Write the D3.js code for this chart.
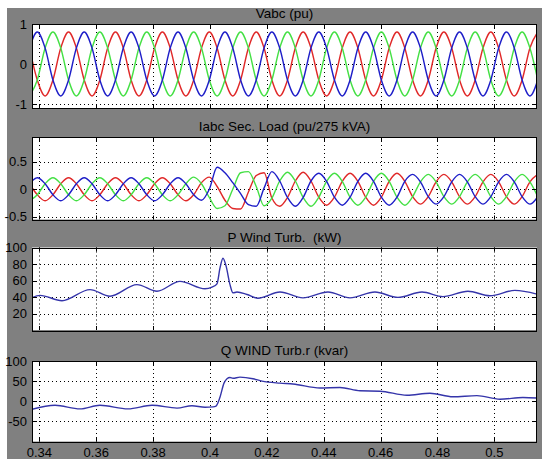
<!DOCTYPE html>
<html>
<head>
<meta charset="utf-8">
<script src="https://cdn.jsdelivr.net/npm/d3@7"></script>
<style>
body { margin: 0; background: #fff; }
svg text { font-family: Arial, "Liberation Sans", sans-serif; fill: #000; }
</style>
</head>
<body>
<svg id="chart" width="542" height="459"></svg>
<script>
'use strict';

// x axis (time, s)
var xTicks = [0.34, 0.36, 0.38, 0.40, 0.42, 0.44, 0.46, 0.48, 0.50];
var xTickLabels = ['0.34', '0.36', '0.38', '0.4', '0.42', '0.44', '0.46', '0.48', '0.5'];

// sample times for the three phase waves (6 samples per cycle)
var tGrid = [
    0.33651, 0.33926, 0.34201, 0.34476, 0.34751, 0.35026,
    0.35301, 0.35576, 0.35851, 0.36126, 0.36401, 0.36676,
    0.36951, 0.37226, 0.37501, 0.37776, 0.38051, 0.38326,
    0.38601, 0.38876, 0.39151, 0.39426, 0.39701, 0.39976,
    0.40251, 0.40526, 0.40801, 0.41076, 0.41351, 0.41626,
    0.41901, 0.42176, 0.42451, 0.42726, 0.43001, 0.43276,
    0.43551, 0.43826, 0.44101, 0.44376, 0.44651, 0.44926,
    0.45201, 0.45476, 0.45751, 0.46026, 0.46301, 0.46576,
    0.46851, 0.47126, 0.47401, 0.47676, 0.47951, 0.48226,
    0.48501, 0.48776, 0.49051, 0.49326, 0.49601, 0.49876,
    0.50151, 0.50426, 0.50701, 0.50976, 0.51251, 0.51526
];

// Vabc (pu)
var vBlue = [
    0.4, 0.8, 0.4, -0.4, -0.8, -0.4,
    0.4, 0.8, 0.4, -0.4, -0.8, -0.4,
    0.4, 0.8, 0.4, -0.4, -0.8, -0.4,
    0.4, 0.8, 0.4, -0.4, -0.8, -0.4,
    0.4, 0.8, 0.4, -0.4, -0.8, -0.4,
    0.4, 0.8, 0.4, -0.4, -0.8, -0.4,
    0.4, 0.8, 0.4, -0.4, -0.8, -0.4,
    0.4, 0.8, 0.4, -0.4, -0.8, -0.4,
    0.4, 0.8, 0.4, -0.4, -0.8, -0.4,
    0.4, 0.8, 0.4, -0.4, -0.8, -0.4,
    0.4, 0.8, 0.4, -0.4, -0.8, -0.4
];
var vGreen = [
    -0.8, -0.4, 0.4, 0.8, 0.4, -0.4,
    -0.8, -0.4, 0.4, 0.8, 0.4, -0.4,
    -0.8, -0.4, 0.4, 0.8, 0.4, -0.4,
    -0.8, -0.4, 0.4, 0.8, 0.4, -0.4,
    -0.8, -0.4, 0.4, 0.8, 0.4, -0.4,
    -0.8, -0.4, 0.4, 0.8, 0.4, -0.4,
    -0.8, -0.4, 0.4, 0.8, 0.4, -0.4,
    -0.8, -0.4, 0.4, 0.8, 0.4, -0.4,
    -0.8, -0.4, 0.4, 0.8, 0.4, -0.4,
    -0.8, -0.4, 0.4, 0.8, 0.4, -0.4,
    -0.8, -0.4, 0.4, 0.8, 0.4, -0.4
];
var vRed = [
    0.4, -0.4, -0.8, -0.4, 0.4, 0.8,
    0.4, -0.4, -0.8, -0.4, 0.4, 0.8,
    0.4, -0.4, -0.8, -0.4, 0.4, 0.8,
    0.4, -0.4, -0.8, -0.4, 0.4, 0.8,
    0.4, -0.4, -0.8, -0.4, 0.4, 0.8,
    0.4, -0.4, -0.8, -0.4, 0.4, 0.8,
    0.4, -0.4, -0.8, -0.4, 0.4, 0.8,
    0.4, -0.4, -0.8, -0.4, 0.4, 0.8,
    0.4, -0.4, -0.8, -0.4, 0.4, 0.8,
    0.4, -0.4, -0.8, -0.4, 0.4, 0.8,
    0.4, -0.4, -0.8, -0.4, 0.4, 0.8
];

// Iabc Sec. Load (pu/275 kVA)
var iBlue = [
    0.1, 0.21, 0.1, -0.1, -0.21, -0.1,
    0.1, 0.21, 0.1, -0.1, -0.21, -0.1,
    0.1, 0.21, 0.1, -0.1, -0.21, -0.1,
    0.1, 0.21, 0.1, -0.1, -0.2, 0.0,
    0.40, 0.30, 0.12, -0.08, -0.28, -0.31,
    0.02, 0.32, 0.15, -0.15, -0.31, -0.15,
    0.15, 0.29, 0.145, -0.145, -0.29, -0.145,
    0.145, 0.29, 0.145, -0.145, -0.29, -0.145,
    0.145, 0.27, 0.135, -0.135, -0.27, -0.135,
    0.135, 0.27, 0.135, -0.135, -0.27, -0.135,
    0.135, 0.27, 0.135, -0.135, -0.27, -0.135
];
var iGreen = [
    -0.21, -0.1, 0.1, 0.21, 0.1, -0.1,
    -0.21, -0.1, 0.1, 0.21, 0.1, -0.1,
    -0.21, -0.1, 0.1, 0.21, 0.1, -0.1,
    -0.21, -0.1, 0.1, 0.22, 0.1, -0.15,
    -0.35, -0.30, 0.0, 0.30, 0.32, 0.05,
    -0.3, -0.16, 0.15, 0.31, 0.15, -0.15,
    -0.31, -0.145, 0.145, 0.29, 0.145, -0.145,
    -0.29, -0.145, 0.145, 0.29, 0.145, -0.145,
    -0.29, -0.135, 0.135, 0.27, 0.135, -0.135,
    -0.27, -0.135, 0.135, 0.27, 0.135, -0.135,
    -0.27, -0.135, 0.135, 0.27, 0.135, -0.135
];
var iRed = [
    0.1, -0.1, -0.21, -0.1, 0.1, 0.21,
    0.1, -0.1, -0.21, -0.1, 0.1, 0.21,
    0.1, -0.1, -0.21, -0.1, 0.1, 0.21,
    0.1, -0.1, -0.21, -0.1, 0.12, 0.22,
    0.05, -0.2, -0.35, -0.36, -0.05, 0.25,
    0.3, -0.16, -0.31, -0.15, 0.15, 0.31,
    0.15, -0.145, -0.29, -0.145, 0.145, 0.29,
    0.145, -0.145, -0.29, -0.145, 0.145, 0.29,
    0.145, -0.135, -0.27, -0.135, 0.135, 0.27,
    0.135, -0.135, -0.27, -0.135, 0.135, 0.27,
    0.135, -0.135, -0.27, -0.135, 0.135, 0.27
];

// P Wind Turb. (kW)
var pTime = [0.33740, 0.34021, 0.34795, 0.35780, 0.36483, 0.37432, 0.38136, 0.38944, 0.39823, 0.40070,
    0.40246, 0.40351, 0.40456, 0.40562, 0.40703, 0.40808, 0.40949, 0.41301, 0.41687, 0.42461,
    0.43270, 0.44149, 0.44922, 0.45802, 0.46610, 0.47454, 0.48193, 0.49072, 0.49846, 0.50725, 0.51499];
var pVal = [39, 42, 35.5, 49, 41, 55, 47, 59, 50, 52,
    56, 75, 87, 78, 55, 45, 46, 43, 38.5, 46,
    39, 46, 39, 46, 39.5, 46, 40.5, 47, 41.5, 48, 43.5];

// Q WIND Turb.r (kvar)
var qTime = [0.33740, 0.34549, 0.35428, 0.36131, 0.37116, 0.37960, 0.38839, 0.39366, 0.39823, 0.40105,
    0.40211, 0.40351, 0.40492, 0.40597, 0.40703, 0.40808, 0.41054, 0.41511, 0.41828, 0.42461,
    0.42918, 0.43868, 0.44571, 0.45274, 0.45977, 0.46927, 0.47736, 0.48544, 0.49388, 0.50197,
    0.51006, 0.51499];
var qVal = [-20, -10, -19, -10, -19, -10, -17, -11, -15, -14,
    -12, 10, 45, 56, 59, 57, 60, 56, 50, 45,
    43, 33, 34, 26, 25, 15, 20, 11, 14, 5,
    9.5, 8];

var BLUE = '#1e1ec8', GREEN = '#44e044', RED = '#e02828', PQ = '#3535aa';

var panels = [
    {title: 'Vabc (pu)', top: 24, bottom: 108, domain: [-1.1, 1],
        ticks: [-1, 0, 1], labels: ['-1', '0', '1'],
        series: [[tGrid, vRed, RED], [tGrid, vGreen, GREEN], [tGrid, vBlue, BLUE]]},
    {title: 'Iabc Sec. Load (pu/275 kVA)', top: 137, bottom: 219.5, domain: [-0.55, 0.95],
        ticks: [-0.5, 0, 0.5], labels: ['-0.5', '0', '0.5'],
        series: [[tGrid, iRed, RED], [tGrid, iGreen, GREEN], [tGrid, iBlue, BLUE]]},
    {title: 'P Wind Turb.  (kW)', top: 247.5, bottom: 330, domain: [0, 100],
        ticks: [20, 40, 60, 80, 100], labels: ['20', '40', '60', '80', '100'],
        series: [[pTime, pVal, PQ]]},
    {title: 'Q WIND Turb.r (kvar)', top: 361, bottom: 441.5, domain: [-100, 100],
        ticks: [-50, 0, 50, 100], labels: ['-50', '0', '50', '100'],
        series: [[qTime, qVal, PQ]]}
];

var svg = d3.select('#chart');
svg.append('rect').attr('x', 7).attr('y', 8).attr('width', 535).attr('height', 451)
    .attr('fill', '#808080');

var left = 32, right = 537;
var x = d3.scaleLinear().domain([0.3374, 0.515]).range([left, right]);

panels.forEach(function(p, i) {
    var y = d3.scaleLinear().domain(p.domain).range([p.bottom, p.top]);
    var g = svg.append('g');

    g.append('clipPath').attr('id', 'clip' + i)
        .append('rect').attr('x', left).attr('y', p.top)
        .attr('width', right - left).attr('height', p.bottom - p.top);

    g.append('rect').attr('x', left).attr('y', p.top)
        .attr('width', right - left).attr('height', p.bottom - p.top)
        .attr('fill', '#fff');

    // dotted grid
    g.selectAll('.gx').data(xTicks).enter().append('line')
        .attr('x1', function(d) { return Math.round(x(d)) + 0.5; })
        .attr('x2', function(d) { return Math.round(x(d)) + 0.5; })
        .attr('y1', p.top).attr('y2', p.bottom)
        .attr('stroke', '#000').attr('stroke-width', 1).attr('stroke-dasharray', '1,3');
    g.selectAll('.gy').data(p.ticks).enter().append('line')
        .attr('x1', left).attr('x2', right)
        .attr('y1', function(d) { return Math.round(y(d)) + 0.5; })
        .attr('y2', function(d) { return Math.round(y(d)) + 0.5; })
        .attr('stroke', '#000').attr('stroke-width', 1).attr('stroke-dasharray', '1,3');

    var line = d3.line()
        .x(function(d) { return x(d[0]); })
        .y(function(d) { return y(d[1]); })
        .curve(d3.curveMonotoneX);

    p.series.forEach(function(s) {
        g.append('path')
            .datum(d3.zip(s[0], s[1]))
            .attr('clip-path', 'url(#clip' + i + ')')
            .attr('d', line)
            .attr('fill', 'none')
            .attr('stroke', s[2])
            .attr('stroke-width', 1.4);
    });

    // frame
    g.append('rect').attr('x', left + 0.5).attr('y', Math.round(p.top) + 0.5)
        .attr('width', right - left - 1).attr('height', Math.round(p.bottom - p.top))
        .attr('fill', 'none').attr('stroke', '#000').attr('stroke-width', 1);

    // inward tick marks
    xTicks.forEach(function(d) {
        var xx = Math.round(x(d)) + 0.5;
        g.append('line').attr('x1', xx).attr('x2', xx)
            .attr('y1', p.bottom).attr('y2', p.bottom - 4).attr('stroke', '#000');
        g.append('line').attr('x1', xx).attr('x2', xx)
            .attr('y1', p.top).attr('y2', p.top + 4).attr('stroke', '#000');
    });
    p.ticks.forEach(function(d) {
        var yy = Math.round(y(d)) + 0.5;
        g.append('line').attr('x1', left).attr('x2', left + 4)
            .attr('y1', yy).attr('y2', yy).attr('stroke', '#000');
        g.append('line').attr('x1', right - 4).attr('x2', right)
            .attr('y1', yy).attr('y2', yy).attr('stroke', '#000');
    });

    // y tick labels
    g.selectAll('.yl').data(p.ticks).enter().append('text')
        .attr('x', 27)
        .attr('y', function(d) { return y(d); })
        .attr('dy', '0.36em')
        .attr('text-anchor', 'end')
        .attr('font-size', 13)
        .text(function(d, k) { return p.labels[k]; });

    // title
    g.append('text')
        .attr('x', (left + right) / 2)
        .attr('y', p.top - 6)
        .attr('text-anchor', 'middle')
        .attr('font-size', 13.5)
        .style('white-space', 'pre')
        .text(p.title);
});

// x tick labels under the last panel
svg.selectAll('.xl').data(xTicks).enter().append('text')
    .attr('x', function(d) { return x(d); })
    .attr('y', 457)
    .attr('text-anchor', 'middle')
    .attr('font-size', 13)
    .text(function(d, k) { return xTickLabels[k]; });
</script>
</body>
</html>
